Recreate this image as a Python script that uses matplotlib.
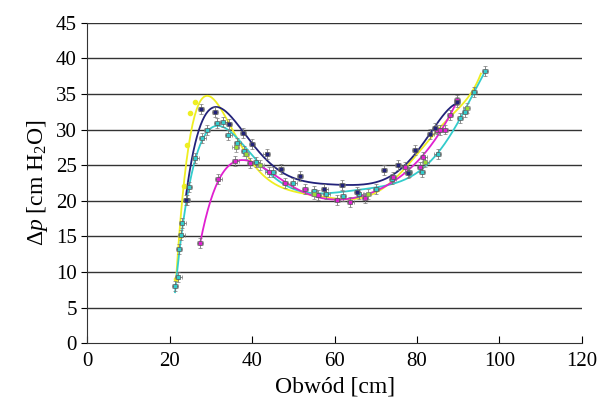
import numpy as np
import matplotlib
matplotlib.use("Agg")
import matplotlib.pyplot as plt

plt.rcParams['font.family'] = ['Liberation Serif', 'DejaVu Serif']
plt.rcParams['mathtext.fontset'] = 'custom'
plt.rcParams['mathtext.rm'] = 'Liberation Serif'
plt.rcParams['mathtext.it'] = 'Liberation Serif:italic'

# dane
navy_x = [24.0, 27.6, 31.0, 34.4, 37.8, 40.0, 43.5, 47.0, 51.6, 57.5, 61.8, 65.4,
          72.0, 75.4, 77.8, 79.5, 83.2, 84.4, 89.7]
navy_y = [20.1, 32.9, 32.5, 30.8, 29.5, 28.0, 26.5, 24.4, 23.5, 21.6, 22.2, 21.2,
          24.3, 25.0, 23.9, 27.1, 29.4, 30.2, 33.8]

cyan_x = [21.3, 22.1, 22.3, 22.8, 23.1, 24.2, 24.7, 26.2, 27.9, 29.1, 31.5, 33.0,
          34.2, 36.4, 38.0, 41.0, 45.0, 50.0, 55.0, 58.0, 62.0, 66.0, 70.0, 74.0,
          78.0, 81.2, 85.0, 90.4, 91.6, 93.8, 96.5]
cyan_y = [8.0, 9.3, 13.2, 15.2, 16.9, 20.1, 21.9, 26.0, 28.8, 29.9, 30.9, 31.1,
          29.2, 28.1, 27.0, 25.5, 24.0, 22.5, 21.3, 21.0, 20.7, 20.9, 21.6, 23.0,
          24.0, 24.0, 26.6, 31.6, 32.4, 35.3, 38.2]

yellow_x = [21.6, 22.5, 23.5, 24.2, 25.0, 26.2, 28.0, 30.0, 32.0, 34.0, 36.0, 38.0,
            40.0, 45.0, 50.0, 55.0, 60.0, 63.3, 65.0, 70.0, 75.0, 80.0, 85.0,
            90.0, 93.0, 95.5]
yellow_y = [9.0, 15.0, 22.0, 27.8, 32.3, 33.8, 34.3, 34.3, 33.3, 31.5, 29.5, 27.6,
            26.0, 23.0, 21.2, 20.5, 20.4, 19.7, 20.8, 21.8, 23.5, 26.0, 29.5,
            33.2, 35.5, 37.5]
yellow_w = [1, 1, 1, 1, 1, 1, 4, 4, 3, 2, 1, 1, 1, 1, 2, 2, 2, 1, 1, 1, 1, 1, 1,
            1, 1, 1]

magenta_x = [27.4, 31.8, 35.9, 39.5, 44.0, 48.0, 52.8, 56.0, 60.6, 63.8, 67.4,
             74.2, 77.1, 80.7, 81.5, 84.8, 85.6, 86.8, 88.0, 89.7]
magenta_y = [14.0, 23.0, 25.6, 25.3, 24.0, 22.5, 21.6, 20.8, 20.1, 19.8, 20.4,
             23.3, 24.7, 24.7, 26.1, 30.0, 29.9, 30.0, 32.0, 34.1]

lime_x = [36.0, 38.5, 42.0, 55.0, 68.0, 82.0, 92.0]
lime_y = [27.5, 26.5, 25.0, 21.0, 21.0, 25.5, 33.0]

series = [
    (yellow_x, yellow_y, yellow_w, '#eeee22', 7),
    (cyan_x, cyan_y, None, '#33cccc', 6),
    (magenta_x, magenta_y, None, '#e020d0', 6),
    (navy_x, navy_y, None, '#22227a', 6),
]

fig, ax = plt.subplots(figsize=(6.1, 4.12), dpi=100)
fig.subplots_adjust(left=0.143, right=0.954, top=0.945, bottom=0.167)

for xs, ys, w, color, deg in series:
    xs = np.array(xs)
    ys = np.array(ys)
    coef = np.polyfit(xs, ys, deg, w=w)
    xx = np.linspace(xs.min(), xs.max(), 300)
    ax.plot(xx, np.polyval(coef, xx), color=color, lw=1.3, zorder=3)
    if color == '#eeee22':
        ax.plot(xs[:6], ys[:6], 'o', color=color, ms=3, zorder=4)
    else:
        ax.errorbar(xs, ys, xerr=0.8, yerr=0.7, fmt='s', ms=3, color=color,
                    mfc=color, mec='#555555', mew=0.5, ecolor='#777777',
                    elinewidth=0.6, capsize=1.5, zorder=4)

ax.errorbar(lime_x, lime_y, xerr=0.8, yerr=0.7, fmt='s', ms=3, color='#99dd33',
            mec='#777777', mew=0.5, ecolor='#888888', elinewidth=0.6,
            capsize=1.5, zorder=4)

ax.set_xlim(0, 120)
ax.set_ylim(0, 45)
ax.set_xticks(range(0, 121, 20))
ax.set_yticks(range(0, 46, 5))
for y in range(5, 46, 5):
    ax.axhline(y, color='#333333', lw=1.0, zorder=1)

ax.spines['top'].set_visible(False)
ax.spines['right'].set_visible(False)
ax.spines['left'].set_color('#333333')
ax.spines['bottom'].set_color('#333333')
ax.tick_params(axis='x', direction='in', length=5, labelsize=15, pad=6)
ax.tick_params(axis='y', direction='out', length=4, labelsize=15)

ax.set_xlabel('Obwód [cm]', fontsize=17)
ax.set_ylabel(r'$\Delta p$ [cm H$_2$O]', fontsize=17)

fig.savefig('out.png', dpi=100)
